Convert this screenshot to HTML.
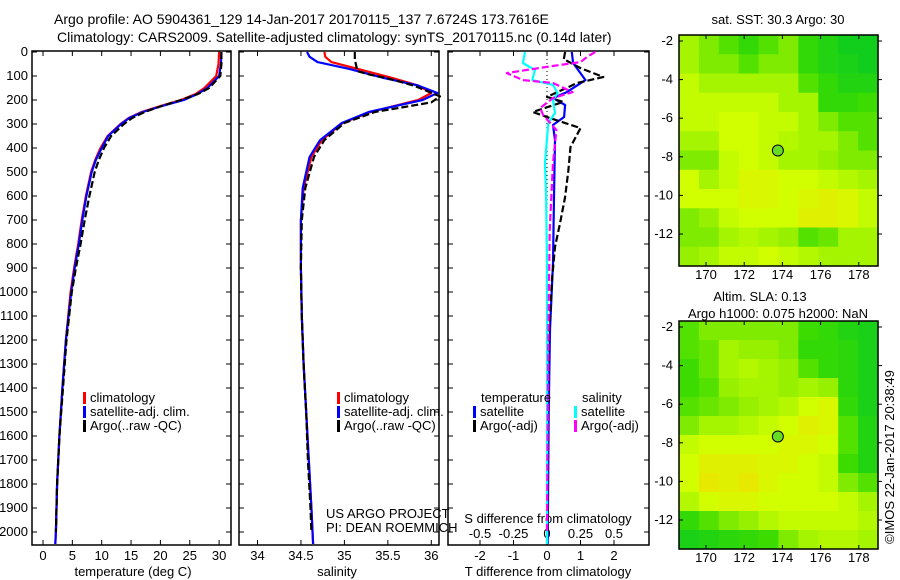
<!DOCTYPE html>
<html><head><meta charset="utf-8">
<style>
html,body{margin:0;padding:0;background:#fff;}
svg{display:block;font-family:"Liberation Sans",sans-serif;}
text{font-size:13px;fill:#000;}
</style></head>
<body>
<svg id="chart" width="900" height="580" viewBox="0 0 900 580" xmlns="http://www.w3.org/2000/svg">
<text x="54" y="24" style="font-size:14px">Argo profile: AO 5904361_129 14-Jan-2017 20170115_137 7.6724S 173.7616E</text>
<text x="57" y="42" style="font-size:14px">Climatology: CARS2009. Satellite-adjusted climatology: synTS_20170115.nc (0.14d later)</text>
<g id="g"></g>
</svg>
<script>
// ---------- data ----------
const depthTicks = [0,100,200,300,400,500,600,700,800,900,1000,1100,1200,1300,1400,1500,1600,1700,1800,1900,2000];
const tTicks = [0,5,10,15,20,25,30];
const sTicks = [34,34.5,35,35.5,36];
const sTickLabels = ["34","34.5","35","35.5","36"];
const dTTicks = [-2,-1,0,1,2];
const dSTicks = [-0.5,-0.25,0,0.25,0.5];
const dSTickLabels = ["-0.5","-0.25","0","0.25","0.5"];

const depthT = [0,50,100,150,175,200,225,250,275,300,350,400,450,500,600,700,800,900,1000,1200,1400,1600,1800,2000,2050];
const climT  = [30.0,29.9,29.5,27.5,26.0,23.5,20.0,16.8,14.6,13.2,11.0,9.8,8.9,8.2,7.3,6.6,6.0,5.3,4.7,3.9,3.3,2.8,2.4,2.2,2.1];
const satT   = [30.4,30.3,30.0,28.0,26.3,24.0,20.3,17.0,14.7,13.3,11.1,10.0,9.0,8.3,7.4,6.7,6.1,5.4,4.8,3.9,3.3,2.8,2.4,2.2,2.1];
const depthArgoT = [0,50,100,150,175,200,225,250,275,300,350,400,450,500,600,700,800,900,1000,1200,1400,1600,1800,2000];
const argoT  = [30.4,30.4,30.2,28.3,26.4,23.5,20.2,17.3,15.2,13.8,11.6,10.4,9.5,8.8,7.9,7.1,6.4,5.6,4.9,4.0,3.4,2.8,2.4,2.2];

const depthS = [0,20,42,70,108,140,171,200,250,296,367,437,567,700,900,1100,1300,1500,1700,1900,2050];
const climS  = [34.77,34.78,34.85,35.15,35.55,35.85,36.0,35.85,35.3,34.98,34.74,34.62,34.53,34.5,34.5,34.51,34.53,34.56,34.59,34.62,34.64];
const satS   = [34.57,34.6,34.69,35.05,35.45,35.85,36.07,35.9,35.28,34.97,34.72,34.6,34.52,34.5,34.5,34.51,34.53,34.56,34.59,34.62,34.64];
const depthArgoS = [0,30,80,95,110,140,185,210,250,296,367,437,567,700,900,1100,1300,1500,1700,1900,2000];
const argoS  = [35.12,35.12,35.15,35.3,35.5,35.8,36.1,36.0,35.35,35.0,34.77,34.65,34.55,34.51,34.5,34.51,34.53,34.56,34.58,34.61,34.62];

const depthDT = [0,46,117,167,192,221,271,304,367,604,879,1158,1500,2050];
const satDT   = [0.74,0.78,1.15,0.59,0.18,0.54,0.51,0.18,0.24,0.21,0.18,0.09,0.05,0.02];
const depthArgoDT = [0,30,67,104,129,187,208,250,275,317,396,492,604,712,812,950,1200,1600,2000];
const argoDT  = [0.54,0.5,1.0,1.68,0.9,0.0,0.48,-0.42,0.08,1.0,0.7,0.64,0.54,0.39,0.24,0.15,0.05,0.03,0.02];
const depthDS = [0,46,75,117,137,171,200,254,296,462,604,879,1500,2050];
const satDS   = [-0.164,-0.18,-0.09,-0.11,0.045,0.08,0.045,0.06,0.01,-0.015,-0.007,0.0,0.0,0.0];
const depthArgoDS = [0,20,42,60,88,117,129,167,192,233,262,325,462,742,1200,2000];
const argoDS  = [0.36,0.3,0.25,0.02,-0.3,-0.18,0.045,0.19,0.045,-0.05,-0.03,0.07,0.045,0.02,0.01,0.0];

const sstGrid = [
[0.6,0.5,0.4,0.3,0.4,0.5,0.3,0.2,0.1,0.1],
[0.6,0.5,0.5,0.4,0.5,0.5,0.3,0.2,0.15,0.1],
[0.7,0.6,0.6,0.6,0.6,0.6,0.4,0.3,0.2,0.2],
[0.7,0.7,0.7,0.7,0.7,0.6,0.6,0.3,0.3,0.35],
[0.7,0.7,0.75,0.75,0.7,0.7,0.6,0.5,0.4,0.4],
[0.6,0.6,0.75,0.75,0.7,0.65,0.6,0.6,0.5,0.4],
[0.5,0.5,0.7,0.75,0.7,0.6,0.6,0.55,0.5,0.5],
[0.75,0.6,0.7,0.8,0.8,0.75,0.75,0.7,0.65,0.6],
[0.75,0.75,0.75,0.8,0.8,0.75,0.8,0.85,0.8,0.7],
[0.5,0.55,0.7,0.75,0.75,0.75,0.85,0.85,0.8,0.7],
[0.5,0.5,0.6,0.65,0.6,0.55,0.4,0.45,0.6,0.6],
[0.55,0.6,0.7,0.7,0.75,0.7,0.65,0.6,0.6,0.6]];
const slaGrid = [
[0.4,0.5,0.5,0.5,0.5,0.5,0.35,0.3,0.2,0.15],
[0.4,0.45,0.6,0.55,0.55,0.5,0.3,0.3,0.25,0.15],
[0.35,0.45,0.6,0.65,0.6,0.55,0.4,0.3,0.25,0.15],
[0.35,0.4,0.55,0.6,0.6,0.55,0.6,0.55,0.25,0.15],
[0.4,0.45,0.5,0.55,0.6,0.65,0.75,0.8,0.3,0.15],
[0.5,0.6,0.6,0.65,0.7,0.75,0.85,0.8,0.4,0.2],
[0.7,0.75,0.75,0.75,0.75,0.8,0.8,0.75,0.4,0.2],
[0.75,0.85,0.85,0.85,0.8,0.8,0.75,0.7,0.35,0.2],
[0.75,0.9,0.85,0.9,0.8,0.75,0.75,0.7,0.5,0.4],
[0.65,0.75,0.8,0.8,0.75,0.75,0.75,0.75,0.7,0.6],
[0.3,0.4,0.5,0.55,0.65,0.7,0.7,0.7,0.7,0.65],
[0.15,0.2,0.25,0.3,0.35,0.5,0.6,0.65,0.65,0.6]];
const lonTicks = [170,172,174,176,178];
const latTicks = [-2,-4,-6,-8,-10,-12];
const argoLon = 173.7616, argoLat = -7.6724;

// ---------- helpers ----------
const NS="http://www.w3.org/2000/svg";
const G=document.getElementById('g');
function mk(tag,attrs,parent){const e=document.createElementNS(NS,tag);for(const k in attrs)e.setAttribute(k,attrs[k]);(parent||G).appendChild(e);return e;}
function txt(x,y,s,anchor,size){const t=mk('text',{x:x,y:y,'text-anchor':anchor||'start'});if(size)t.style.fontSize=size+'px';t.textContent=s;return t;}
const yD = d => 52 + d*0.24;
const xT = v => 43 + v*5.87;
const xS = v => 257.5 + (v-34)*86.9;
const xDT = v => 547 + v*33.5;
const xDS = v => 547 + v*134;
const TOP=51, BOT=545;

function frame(x0,x1,name){
  const r=mk('rect',{x:x0,y:TOP,width:x1-x0,height:BOT-TOP,fill:'none',stroke:'#000','stroke-width':1.5});
  
  
  depthTicks.forEach(d=>{mk('line',{x1:x0,x2:x0+5,y1:yD(d),y2:yD(d),stroke:'#000'});mk('line',{x1:x1,x2:x1-5,y1:yD(d),y2:yD(d),stroke:'#000'});});
}
function xticks(vals,fx,labels,ly){
  vals.forEach((v,i)=>{const x=fx(v);mk('line',{x1:x,x2:x,y1:BOT,y2:BOT-5,stroke:'#000'});mk('line',{x1:x,x2:x,y1:TOP,y2:TOP+5,stroke:'#000'});
    const t=txt(x,ly,labels[i],'middle');
    
    });
}
function line(xs,ds,fx,color,dash,name){
  const p=xs.map((v,i)=>fx(v).toFixed(1)+','+yD(ds[i]).toFixed(1)).join(' ');
  const e=mk('polyline',{points:p,fill:'none',stroke:color,'stroke-width':2.2,'stroke-linejoin':'round','stroke-dasharray':dash?'7,3':'none'});
  
  
}
function legend(x,y,items){
  items.forEach((it,i)=>{mk('rect',{x:x,y:y+i*14-10,width:3,height:12,fill:it[1]});
    const t=txt(x+7,y+i*14,it[0]);
    
    });
}

// y tick labels
depthTicks.forEach(d=>{const t=txt(28,yD(d)+4,String(d),'end');
  
  });

// Panel 1 temperature
frame(32,231,'temperature-panel');
xticks(tTicks,xT,tTicks.map(String),560);
txt(133,576,'temperature (deg C)','middle');
line(climT,depthT,xT,'#f00',false,'temp-climatology-line');
line(satT,depthT,xT,'#00f',false,'temp-satellite-line');
line(argoT,depthArgoT,xT,'#000',true,'temp-argo-line');
legend(83,402,[['climatology','#f00'],['satellite-adj. clim.','#00f'],['Argo(..raw -QC)','#000']]);

// Panel 2 salinity
frame(239,439,'salinity-panel');
xticks(sTicks,xS,sTickLabels,560);
txt(337,576,'salinity','middle');
line(climS,depthS,xS,'#f00',false,'sal-climatology-line');
line(satS,depthS,xS,'#00f',false,'sal-satellite-line');
line(argoS,depthArgoS,xS,'#000',true,'sal-argo-line');
legend(337,402,[['climatology','#f00'],['satellite-adj. clim.','#00f'],['Argo(..raw -QC)','#000']]);
txt(326,518,'US ARGO PROJECT');
txt(326,532,'PI: DEAN ROEMMICH');

// Panel 3 differences
frame(448,649,'difference-panel');
mk('line',{x1:547,x2:547,y1:TOP,y2:BOT,stroke:'#000','stroke-dasharray':'1,3'});
xticks(dTTicks,xDT,dTTicks.map(String),560);
dSTicks.forEach((v,i)=>{const t=txt(xDS(v),538,dSTickLabels[i],'middle');
  
  });
txt(548,523,'S difference from climatology','middle');
txt(548,576,'T difference from climatology','middle');
line(satDT,depthDT,xDT,'#00f',false,'tdiff-satellite-line');
line(argoDT,depthArgoDT,xDT,'#000',true,'tdiff-argo-line');
line(satDS,depthDS,xDS,'#0ff',false,'sdiff-satellite-line');
line(argoDS,depthArgoDS,xDS,'#f0f',true,'sdiff-argo-line');
txt(481,402,'temperature');
legend(473,416,[['satellite','#00f'],['Argo(-adj)','#000']]);
txt(582,402,'salinity');
legend(574,416,[['satellite','#0ff'],['Argo(-adj)','#f0f']]);

// ---------- maps ----------
function col(v){
  const stops=[[0,[0,200,40]],[0.35,[60,220,0]],[0.55,[150,240,0]],[0.75,[210,255,0]],[1,[245,220,0]]];
  for(let i=1;i<stops.length;i++){if(v<=stops[i][0]){const a=stops[i-1],b=stops[i],t=(v-a[0])/(b[0]-a[0]);
    return 'rgb('+a[1].map((c,k)=>Math.round(c+(b[1][k]-c)*t)).join(',')+')';}}
  return 'rgb(245,220,0)';
}
function map(y0,y1,grid,name){
  const x0=679,x1=878;
  const lonX = lo => 706 + (lo-170)*19.1;
  const latY = la => y0+6 + (-2-la)*19.3;
  const rows=grid.length, cols=grid[0].length, cw=(x1-x0)/cols, ch=(y1-y0)/rows;
  const g=mk('g',{});
  
  
  grid.forEach((r,i)=>r.forEach((v,j)=>{
    const c=mk('rect',{x:x0+j*cw,y:y0+i*ch,width:cw+0.6,height:ch+0.6,fill:col(v)},g);
    
    
  }));
  mk('rect',{x:x0,y:y0,width:x1-x0,height:y1-y0,fill:'none',stroke:'#000','stroke-width':1.5});
  lonTicks.forEach(lo=>{const x=lonX(lo);mk('line',{x1:x,x2:x,y1:y0,y2:y0+4,stroke:'#000'});mk('line',{x1:x,x2:x,y1:y1,y2:y1-4,stroke:'#000'});
    const t=txt(x,y1+13,String(lo),'middle');
    
    });
  latTicks.forEach(la=>{const y=latY(la);mk('line',{x1:x0,x2:x0+4,y1:y,y2:y,stroke:'#000'});mk('line',{x1:x1,x2:x1+4,y1:y,y2:y,stroke:'#000'});
    const t=txt(673,y+4,String(la),'end');
    
    });
  const m=mk('circle',{cx:lonX(argoLon),cy:latY(argoLat),r:5.5,fill:'#66dd22',stroke:'#000','stroke-width':1});
  
  
}
txt(778,24,'sat. SST: 30.3 Argo: 30','middle');
map(35,266,sstGrid,'sst-map');
txt(760,301,'Altim. SLA: 0.13','middle');
txt(778,318,'Argo h1000: 0.075 h2000: NaN','middle');
map(321,549,slaGrid,'sla-map');
const cp=txt(0,0,'©IMOS 22-Jan-2017 20:38:49','middle');
cp.setAttribute('transform','translate(894,457) rotate(-90)');


</script>
</body></html>
